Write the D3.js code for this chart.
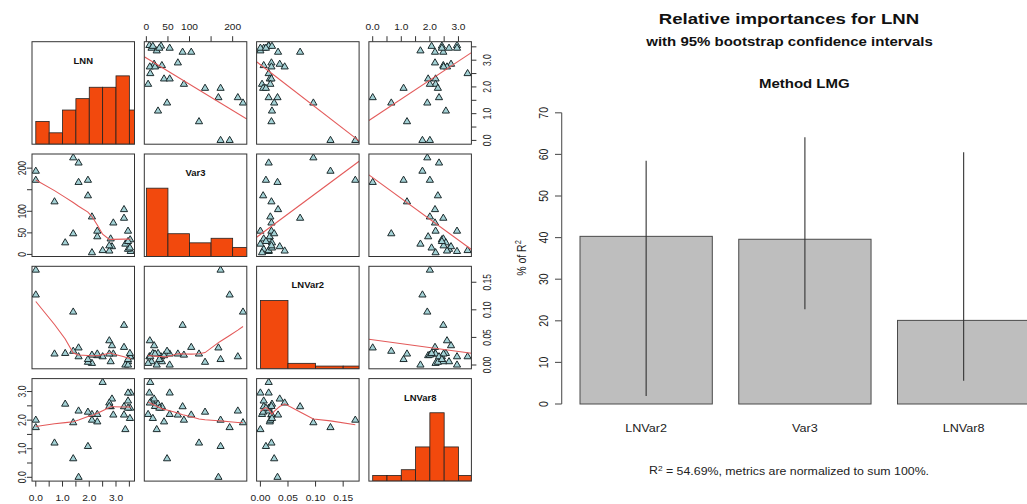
<!DOCTYPE html>
<html>
<head>
<meta charset="utf-8">
<script src="https://cdn.jsdelivr.net/npm/d3@7"></script>
<style>
body { margin: 0; background: #fff; }
svg { display: block; font-family: "Liberation Sans", Arial, sans-serif; }
</style>
</head>
<body>
<script>
var varNames = ["LNN", "Var3", "LNVar2", "LNVar8"];
var LNN    = [3.55, 3.45, 3.35, 3.53, 3.45, 3.30, 3.30, 2.90, 2.80, 2.85, 2.75, 2.50, 2.30, 2.30, 2.10,
              2.10, 1.95, 1.95, 1.60, 1.60, 1.40, 1.40, 1.10, 0.70, 0.00, 0.00, 3.52, 2.75, 3.45];
var Var3   = [7, 12, 24, 34, 54, 84, 104, 73, 36, 18, 8, 9, 41, 54, 4,
              87, 136, 172, 167, 212, 224, 48, 27, 122, 172, 193, 15, 20, 30];
var LNVar2 = [0.015, 0.006, 0.000, 0.015, 0.000, 0.072, 0.032, 0.020, 0.006, 0.035, 0.044, 0.015, 0.017, 0.020, 0.003,
              0.018, 0.005, 0.010, 0.031, 0.015, 0.096, 0.025, 0.021, 0.020, 0.172, 0.127, 0.021, 0.020, 0.010];
var LNVar8 = [2.95, 2.67, 1.67, 2.42, 2.95, 2.47, 2.18, 2.18, 2.47, 2.74, 2.60, 3.32, 1.94, 2.20, 2.20,
              2.00, 2.28, 1.08, 0.00, 2.32, 1.91, 0.65, 2.56, 1.20, 2.00, 1.74, 2.06, 2.48, 2.42];

// histogram breaks for the diagonal panels
var lnnBreaks    = [0, 0.5, 1, 1.5, 2, 2.5, 3, 3.5, 4];
var var3Breaks   = [0, 50, 100, 150, 200, 250];
var lnvar2Breaks = [0, 0.05, 0.10, 0.15, 0.20];
var lnvar8Breaks = [0, 0.5, 1, 1.5, 2, 2.5, 3, 3.5];

// axis ticks and labels
var lnnTicks     = [0, 0.5, 1, 1.5, 2, 2.5, 3, 3.5];
var lnnLabels    = ["0.0", "", "1.0", "", "2.0", "", "3.0", ""];
var var3Ticks    = [0, 50, 100, 150, 200];
var var3Labels   = ["0", "50", "100", "", "200"];
var lnvar2Ticks  = [0, 0.05, 0.10, 0.15];
var lnvar2Labels = ["0.00", "0.05", "0.10", "0.15"];
var lnvar8Ticks  = [0, 0.5, 1, 1.5, 2, 2.5, 3];
var lnvar8Labels = ["0.0", "", "1.0", "", "2.0", "", "3.0"];

// relative importance bar chart
var predictors = ["LNVar2", "Var3", "LNVar8"];
var lmgValues  = [40.3, 39.6, 20.1];
var ciLower    = [1.9, 22.8, 5.6];
var ciUpper    = [58.5, 64.1, 60.5];
var barTicks   = [0, 10, 20, 30, 40, 50, 60, 70];

var cols = [LNN, Var3, LNVar2, LNVar8];
var breaks = [lnnBreaks, var3Breaks, lnvar2Breaks, lnvar8Breaks];
var ticks = [lnnTicks, var3Ticks, lnvar2Ticks, lnvar8Ticks];
var tickLabels = [lnnLabels, var3Labels, lnvar2Labels, lnvar8Labels];

// ---- layout ----
var W = 1027, H = 504, SX = 1.2;   // the original picture is stretched sideways
var S = 102.5, step = 112.3, left0 = 32, top0 = 41.7;
var tickFont = 8.5;

var svg = d3.select("body").append("svg")
    .attr("width", W)
    .attr("height", H);

function addText(parent, x, y, str, size, o) {
  o = o || {};
  return parent.append("text")
      .attr("transform", "translate(" + x + "," + y + ") scale(" + (o.sx || SX) + ",1)" + (o.rot ? " rotate(-90)" : ""))
      .attr("text-anchor", o.anchor || "middle")
      .attr("fill", o.fill || "#222")
      .style("font-size", size + "px")
      .style("font-weight", o.bold ? "bold" : null)
      .text(str);
}

// R's lowess (clowess port)
function lowest(x, y, n, xs, nleft, nright, w, userw, rw) {
  var range = x[n - 1] - x[0];
  var h = Math.max(xs - x[nleft], x[nright] - xs);
  var h9 = 0.999 * h, h1 = 0.001 * h;
  var a = 0, j = nleft;
  while (j < n) {
    w[j] = 0;
    var r = Math.abs(x[j] - xs);
    if (r <= h9) {
      w[j] = r <= h1 ? 1 : Math.pow(1 - Math.pow(r / h, 3), 3);
      if (userw) w[j] *= rw[j];
      a += w[j];
    } else if (x[j] > xs) break;
    j++;
  }
  var nrt = j - 1;
  if (a <= 0) return null;
  for (j = nleft; j <= nrt; j++) w[j] /= a;
  if (h > 0) {
    a = 0;
    for (j = nleft; j <= nrt; j++) a += w[j] * x[j];
    var b = xs - a, c = 0;
    for (j = nleft; j <= nrt; j++) c += w[j] * (x[j] - a) * (x[j] - a);
    if (Math.sqrt(c) > 0.001 * range) {
      b /= c;
      for (j = nleft; j <= nrt; j++) w[j] *= (b * (x[j] - a) + 1);
    }
  }
  var s = 0;
  for (j = nleft; j <= nrt; j++) s += w[j] * y[j];
  return s;
}

function lowess(xIn, yIn) {
  var n = xIn.length, f = 2 / 3, iter = 3;
  var order = d3.range(n).sort(function(a, b) { return xIn[a] - xIn[b]; });
  var x = order.map(function(i) { return xIn[i]; }),
      y = order.map(function(i) { return yIn[i]; });
  var delta = 0.01 * (x[n - 1] - x[0]);
  var ns = Math.max(2, Math.min(n, Math.floor(f * n + 1e-7)));
  var sc = d3.sum(y, Math.abs) / n;
  var ys = new Array(n).fill(0), rw = new Array(n).fill(1),
      res = new Array(n).fill(0), w = new Array(n).fill(0);
  for (var it = 0; it <= iter; it++) {
    var nleft = 0, nright = ns - 1, last = -1, i = 0;
    do {
      while (nright < n - 1) {
        if (x[i] - x[nleft] <= x[nright + 1] - x[i]) break;
        nleft++; nright++;
      }
      var fit = lowest(x, y, n, x[i], nleft, nright, w, it > 0, rw);
      ys[i] = fit === null ? y[i] : fit;
      if (last < i - 1) {
        var denom = x[i] - x[last];
        for (var j = last + 1; j < i; j++) {
          var alpha = (x[j] - x[last]) / denom;
          ys[j] = alpha * ys[i] + (1 - alpha) * ys[last];
        }
      }
      last = i;
      var cut = x[last] + delta;
      for (i = last + 1; i < n; i++) {
        if (x[i] > cut) break;
        if (x[i] === x[last]) { ys[i] = ys[last]; last = i; }
      }
      i = Math.max(last + 1, i - 1);
    } while (last < n - 1);
    for (var k = 0; k < n; k++) res[k] = y[k] - ys[k];
    if (it === iter) break;
    var absr = res.map(Math.abs).sort(function(a, b) { return a - b; });
    var m1 = Math.floor(n / 2);
    var cmad = n % 2 === 0 ? 3 * (absr[m1] + absr[m1 - 1]) : 6 * absr[m1];
    if (cmad < 1e-7 * sc) break;
    var c9 = 0.999 * cmad, c1 = 0.001 * cmad;
    for (k = 0; k < n; k++) {
      var rr = Math.abs(res[k]);
      rw[k] = rr <= c1 ? 1 : rr <= c9 ? Math.pow(1 - Math.pow(rr / cmad, 2), 2) : 0;
    }
  }
  return x.map(function(v, k) { return [v, ys[k]]; });
}

function linfit(x, y) {
  var mx = d3.mean(x), my = d3.mean(y), sxy = 0, sxx = 0;
  x.forEach(function(v, i) { sxy += (v - mx) * (y[i] - my); sxx += (v - mx) * (v - mx); });
  var b = sxy / sxx;
  return {a: my - b * mx, b: b};
}

// ---- scatterplot matrix ----
var xs = [], ys = [];
cols.forEach(function(v, k) {
  var ext = d3.extent(v), pad = 0.04 * (ext[1] - ext[0]);
  var dom = [ext[0] - pad, ext[1] + pad];
  xs.push(d3.scaleLinear().domain(dom).range([left0 + k * step, left0 + k * step + S]));
  ys.push(d3.scaleLinear().domain(dom).range([top0 + k * step + S, top0 + k * step]));
});

var defs = svg.append("defs");
var tri = "M0,-4.1L3.6,2.05L-3.6,2.05Z";

for (var r = 0; r < 4; r++) {
  for (var c = 0; c < 4; c++) {
    var px = left0 + c * step, py = top0 + r * step;
    var id = "clip" + r + c;
    defs.append("clipPath").attr("id", id)
      .append("rect").attr("x", px).attr("y", py).attr("width", S).attr("height", S);
    var g = svg.append("g").attr("clip-path", "url(#" + id + ")");
    var xsc = xs[c], ysc = ys[r];

    if (r === c) {
      var v = cols[c], br = breaks[c];
      var counts = br.slice(1).map(function(b, i) {
        return v.filter(function(d) { return (i === 0 ? d >= br[0] : d > br[i]) && d <= b; }).length;
      });
      var maxC = d3.max(counts);
      var hy = d3.scaleLinear().domain([0, 1.5]).range([py + S, py]);
      g.selectAll(".bar").data(counts).enter().append("rect")
          .attr("x", function(d, i) { return xsc(br[i]); })
          .attr("width", function(d, i) { return xsc(br[i + 1]) - xsc(br[i]); })
          .attr("y", function(d) { return hy(d / maxC); })
          .attr("height", function(d) { return hy(0) - hy(d / maxC); })
          .attr("fill", "#f2490d")
          .attr("stroke", "#222")
          .attr("stroke-width", 0.8);
      addText(svg, px + S / 2, py + 22, varNames[c], 9, {bold: true, fill: "#111", sx: 1.05});
    } else {
      var xv = cols[c], yv = cols[r];
      var pts = xv.map(function(d, i) { return [d, yv[i]]; });
      g.selectAll(".pt").data(pts).enter().append("path")
          .attr("d", tri)
          .attr("transform", function(d) { return "translate(" + xsc(d[0]) + "," + ysc(d[1]) + ")"; })
          .attr("fill", "#a4d2d6")
          .attr("stroke", "#1c2a2c")
          .attr("stroke-width", 1);
      var line;
      if (r < c) {
        var fit = linfit(xv, yv), dom = xsc.domain();
        line = [[dom[0], fit.a + fit.b * dom[0]], [dom[1], fit.a + fit.b * dom[1]]];
      } else {
        line = lowess(xv, yv);
      }
      g.append("path")
          .attr("d", d3.line().x(function(d) { return xsc(d[0]); }).y(function(d) { return ysc(d[1]); })(line))
          .attr("fill", "none")
          .attr("stroke", "#e35a5a")
          .attr("stroke-width", 1.1);
    }
    svg.append("rect")
        .attr("x", px).attr("y", py).attr("width", S).attr("height", S)
        .attr("fill", "none").attr("stroke", "#333").attr("stroke-width", 1);
  }
}

// axes: columns alternate bottom/top, rows alternate right/left
var capH = 0.716 * tickFont * SX;
cols.forEach(function(v, k) {
  var axg = svg.append("g").attr("stroke", "#333");
  var bottom = k % 2 === 0;
  var yEdge = bottom ? top0 + 3 * step + S : top0;
  ticks[k].forEach(function(t, i) {
    var x = xs[k](t);
    axg.append("line").attr("x1", x).attr("x2", x)
        .attr("y1", yEdge).attr("y2", bottom ? yEdge + 5.5 : yEdge - 5.5);
    if (tickLabels[k][i]) addText(svg, x, bottom ? 501 : 29.5, tickLabels[k][i], tickFont);
  });
  var right = k % 2 === 0;
  var xEdge = right ? left0 + 3 * step + S : left0;
  ticks[k].forEach(function(t, i) {
    var y = ys[k](t);
    axg.append("line").attr("y1", y).attr("y2", y)
        .attr("x1", xEdge).attr("x2", right ? xEdge + 5 : xEdge - 5);
    if (tickLabels[k][i]) addText(svg, (right ? 487 : 22) + capH / 2, y, tickLabels[k][i], tickFont, {rot: true});
  });
});

// ---- relative importance bar chart ----
var xb = d3.scaleBand().domain(predictors).range([580, 1029.8]).paddingInner(0.2 / 1.2).paddingOuter(0);
var yb = d3.scaleLinear().domain([0, 70]).range([404, 112.8]);

addText(svg, 789, 24.3, "Relative importances for LNN", 15.5, {bold: true, fill: "#111"});
addText(svg, 789.5, 45.5, "with 95% bootstrap confidence intervals", 12.5, {bold: true, fill: "#111"});
addText(svg, 804.3, 88, "Method LMG", 12.5, {bold: true, fill: "#111"});

svg.selectAll(".lmg").data(lmgValues).enter().append("rect")
    .attr("x", function(d, i) { return xb(predictors[i]); })
    .attr("width", xb.bandwidth())
    .attr("y", function(d) { return yb(d); })
    .attr("height", function(d) { return yb(0) - yb(d); })
    .attr("fill", "#bebebe")
    .attr("stroke", "#4a4a4a")
    .attr("stroke-width", 1);

svg.selectAll(".ci").data(predictors).enter().append("line")
    .attr("x1", function(d) { return xb(d) + xb.bandwidth() / 2; })
    .attr("x2", function(d) { return xb(d) + xb.bandwidth() / 2; })
    .attr("y1", function(d, i) { return yb(ciLower[i]); })
    .attr("y2", function(d, i) { return yb(ciUpper[i]); })
    .attr("stroke", "#333")
    .attr("stroke-width", 1.1);

var yAx = svg.append("g").attr("stroke", "#555").attr("stroke-width", 1.1);
yAx.append("line").attr("x1", 561.7).attr("x2", 561.7).attr("y1", yb(0)).attr("y2", yb(70));
barTicks.forEach(function(t) {
  yAx.append("line").attr("x1", 561.7).attr("x2", 555).attr("y1", yb(t)).attr("y2", yb(t));
  addText(svg, 543 + 0.716 * 10.5 * SX / 2, yb(t), String(t), 10.5, {rot: true});
});

var yl = addText(svg, 521 + 0.716 * 10.5 * SX / 2, 258, "% of R", 10.5, {rot: true});
yl.append("tspan").attr("dy", "-0.45em").style("font-size", "7.5px").text("2");

predictors.forEach(function(p) {
  addText(svg, xb(p) + xb.bandwidth() / 2, 431.5, p, 10.5);
});

var r2 = addText(svg, 789, 474, "R", 10.3);
r2.append("tspan").attr("dy", "-0.45em").style("font-size", "7px").text("2");
r2.append("tspan").attr("dy", "0.45em").text(" = 54.69%, metrics are normalized to sum 100%.");
</script>
</body>
</html>
